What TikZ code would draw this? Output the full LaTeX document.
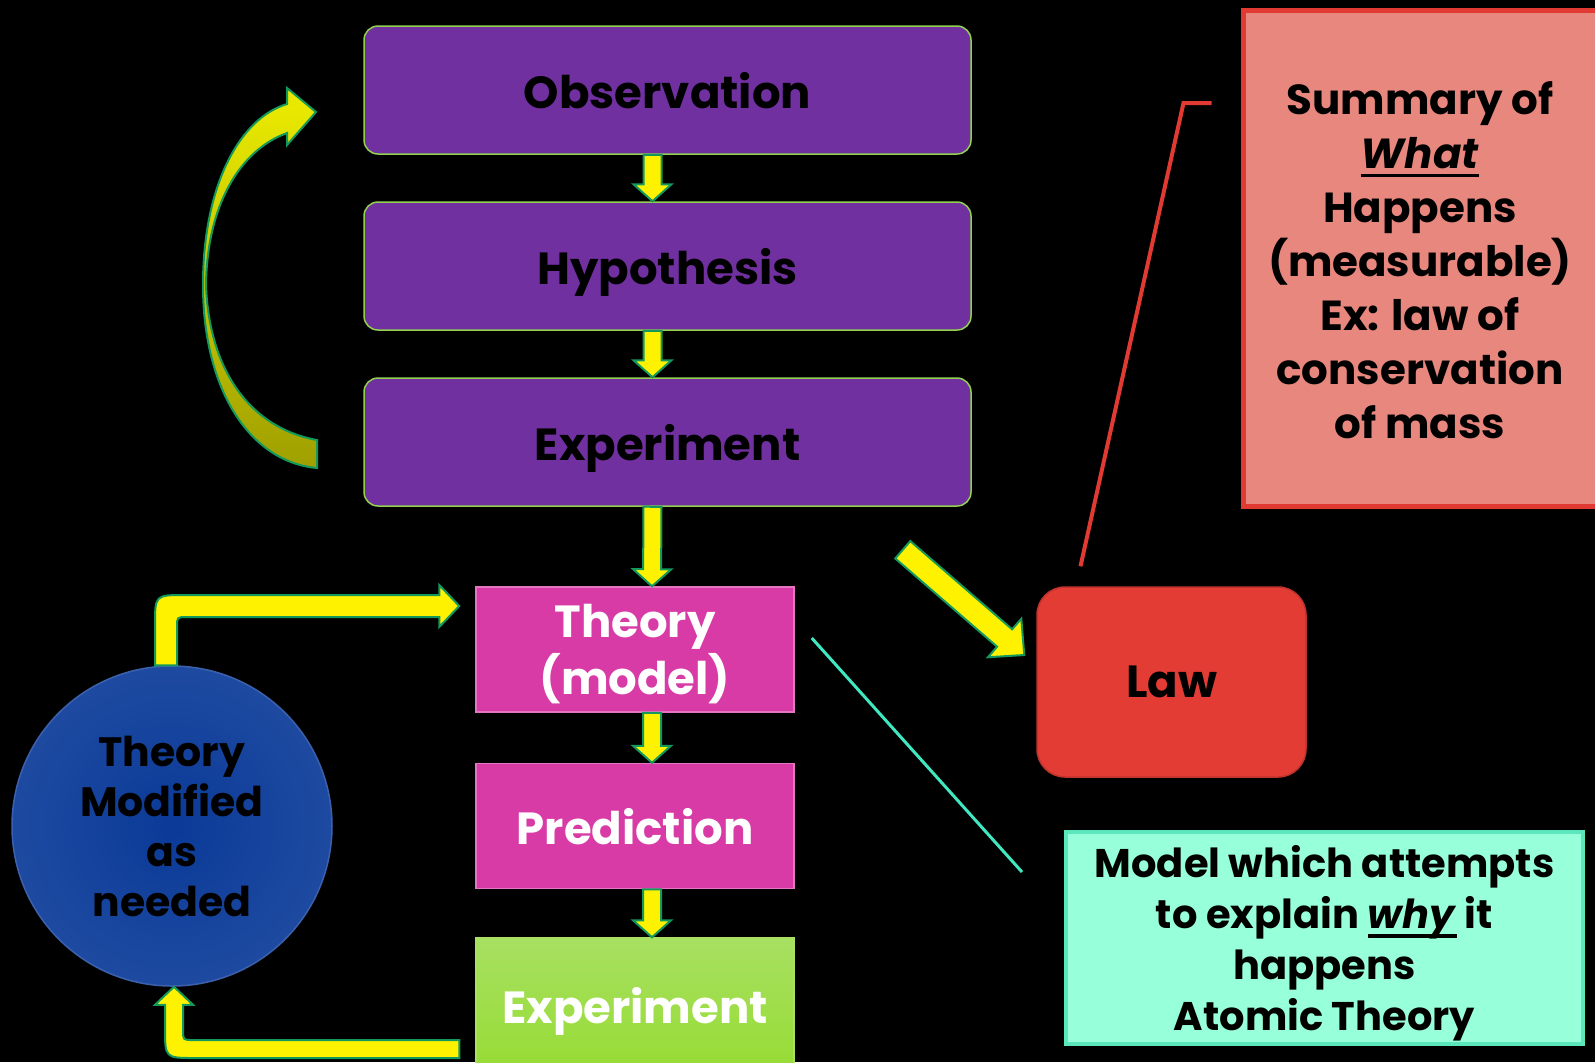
\documentclass[tikz,border=0pt]{standalone}
\usepackage{fontspec}
\setmainfont{Poppins}
\usetikzlibrary{calc,positioning}

\definecolor{obspurple}{HTML}{7030A0}
\definecolor{boxedge}{HTML}{92D050}
\definecolor{thmagenta}{HTML}{D83BA6}
\definecolor{expgreen}{HTML}{92D83A}
\definecolor{arrowedge}{HTML}{13995B}
\definecolor{lawred}{HTML}{E23C34}
\definecolor{summfill}{HTML}{E8877E}
\definecolor{summedge}{HTML}{E03A33}
\definecolor{modelfill}{HTML}{97FFD9}
\definecolor{modeledge}{HTML}{5CE6BC}
\definecolor{tealline}{HTML}{3FE8C0}
\definecolor{ballblue}{HTML}{0A3A98}

\newcommand{\thickul}[1]{\setbox0\hbox{#1}\rlap{\rule[-4.5pt]{\wd0}{1.6pt}}\box0\relax}

\tikzset{
  blockarrow/.style n args={3}{draw=arrowedge, line width=1pt, fill=yellow,
    to path={let \p1=(\tikztostart), \p2=(\tikztotarget), \p3=($(\p2)!#3!(\p1)$) in
      ($(\p1)!#1!90:(\p2)$) -- ($(\p3)!#1!90:(\p2)$) -- ($(\p3)!#2!90:(\p2)$) -- (\p2)
      -- ($(\p3)!#2!-90:(\p2)$) -- ($(\p3)!#1!-90:(\p2)$) -- ($(\p1)!#1!-90:(\p2)$) -- cycle}},
  downarrow/.style={blockarrow={4.5pt}{9.5pt}{8.5pt}}
}

\begin{document}
\begin{tikzpicture}[x=0.5pt,y=-0.5pt]

\tikzstyle{bigfont} = [font=\bfseries\fontsize{22.5}{28.5}\selectfont];
\tikzstyle{block} = [draw=boxedge, line width=0.75pt, fill=obspurple, rounded corners=7pt,
	minimum width=303.5pt, minimum height=64pt, inner sep=0pt, text depth=0pt, bigfont];
\tikzstyle{pink} = [draw=thmagenta!70!white, line width=0.75pt, fill=thmagenta, text=white,
	minimum width=159pt, minimum height=62.5pt, inner sep=0pt, text depth=0pt, align=center, bigfont];
\tikzstyle{bent} = [draw=arrowedge, line width=1pt, fill=yellow];

\useasboundingbox[fill=black] (0,0) rectangle (1595,1062);

% top column
\node[block] (obs) at (667.5,90) {Observation};
\node[block] (hyp) at (667.5,266) {Hypothesis};
\node[block] (exp1) at (667.5,442) {Experiment};

\draw[downarrow] ([xshift=-7.5pt]obs.south) to ([xshift=-7.5pt]hyp.north);
\draw[downarrow] ([xshift=-7.5pt]hyp.south) to ([xshift=-7.5pt]exp1.north);

% curved arrow back to observation
\draw[draw=arrowedge, line width=1pt, top color=yellow!85!olive, bottom color=olive!75!yellow]
	(317,468) .. controls (250,462) and (203,390) .. (203,285)
	.. controls (203,185) and (240,118) .. (287,104) -- (287,88) -- (316,112) -- (287,145)
	-- (287,133) .. controls (240,150) and (207,205) .. (206,285)
	.. controls (209,370) and (250,428) .. (317,440) -- cycle;

% lower column
\node[pink] (theory) at (635,649.5) {Theory\\(model)};
\node[pink] (pred) at (635,826) {Prediction};
\node[pink, draw=expgreen!80!white, top color=expgreen!80!white, bottom color=expgreen!90!lime,
	minimum height=67pt] (exp2) at (635,1005) {Experiment};

\draw[downarrow] ([xshift=-7.5pt]exp1.south) to ([xshift=8.5pt]theory.north);
\draw[downarrow] ([xshift=8.5pt]theory.south) to ([xshift=8.5pt]pred.north);
\draw[downarrow] ([xshift=8.5pt]pred.south) to ([xshift=8.5pt]exp2.north);

% loop through the circle
\node[circle, minimum size=160pt, inner sep=0pt, draw=ballblue!80!white, line width=0.75pt,
	inner color=ballblue, outer color=ballblue!92!white, align=center,
	font=\bfseries\fontsize{20.5}{25}\selectfont] (circ) at (172,826)
	{Theory\\Modified\\as\\needed};

\coordinate (upto) at ($(theory.west)+(-16,-43.5)$);
\coordinate (backfrom) at ($(exp2.west)+(-16,44)$);

\draw[bent] let \p1=([xshift=-3pt]circ.north), \p2=(upto) in
	(\x1-5.5pt,\y1) -- (\x1-5.5pt,\y2-9.5pt) .. controls (\x1-5.5pt,\y2+5.5pt) .. (\x1+9.5pt,\y2+5.5pt)
	-- (\x2-10pt,\y2+5.5pt) -- (\x2-10pt,\y2+10.5pt) -- (\x2,\y2) -- (\x2-10pt,\y2-10.5pt)
	-- (\x2-10pt,\y2-5.5pt) -- (\x1+10.5pt,\y2-5.5pt) .. controls (\x1+5.5pt,\y2-5.5pt) .. (\x1+5.5pt,\y2-10.5pt)
	-- (\x1+5.5pt,\y1) -- cycle;

\draw[bent] let \p1=(backfrom), \p2=([xshift=1pt]circ.south) in
	(\x1,\y1+4.5pt) -- (\x2+9.5pt,\y1+4.5pt) .. controls (\x2+4.5pt,\y1+4.5pt) .. (\x2+4.5pt,\y1+9.5pt)
	-- (\x2+4.5pt,\y2-9pt) -- (\x2+9.5pt,\y2-9pt) -- (\x2,\y2) -- (\x2-9.5pt,\y2-9pt)
	-- (\x2-4.5pt,\y2-9pt) -- (\x2-4.5pt,\y1+10.5pt) .. controls (\x2-4.5pt,\y1-4.5pt) .. (\x2+10.5pt,\y1-4.5pt)
	-- (\x1,\y1-4.5pt) -- cycle;

% law and its note
\node[draw=lawred!85!black, line width=0.75pt, fill=lawred, rounded corners=14pt,
	minimum width=134.5pt, minimum height=95pt, bigfont] (law) at (1171.5,682) {Law};

\node[draw=summedge, line width=2.5pt, fill=summfill, minimum width=185pt, minimum height=248pt]
	(summ) at (1428,258) {};
\node[align=center, font=\bfseries\fontsize{21}{27}\selectfont] (summtext) at ($(summ.center)+(-8,2)$)
	{Summary of\\\thickul{\textit{What}}\\Happens\\(measurable)\\Ex: law of\\conservation\\of mass};

\coordinate (lawfrom) at ($(exp1.south east)+(-69,43)$);
\coordinate (lawto) at ($(law.west)+(-12,-27)$);
\draw[blockarrow={5.75pt}{12.75pt}{13pt}] (lawfrom) to (lawto);

\coordinate (lawtop) at ($(law.north)+(-91,-20)$);
\coordinate (summknee) at ($(summ.west)+(-57,-155)$);
\coordinate (summend) at ($(summ.west)+(-29,-155)$);
\draw[summedge, line width=2pt] (lawtop) -- (summknee) -- (summend);

% model note
\node[draw=modeledge, line width=2pt, fill=modelfill, minimum width=258.5pt, minimum height=106pt,
	align=center, text depth=0pt, font=\bfseries\fontsize{20}{25.5}\selectfont] (model) at (1324.5,938)
	{Model which attempts\\to explain \thickul{\textit{why}} it\\happens\\Atomic Theory};

\coordinate (tfrom) at ($(theory.east)+(17,-11.5)$);
\coordinate (tto) at ($(model.west)+(-42,-66)$);
\draw[tealline, line width=1.5pt] (tfrom) -- (tto);

\end{tikzpicture}
\end{document}
